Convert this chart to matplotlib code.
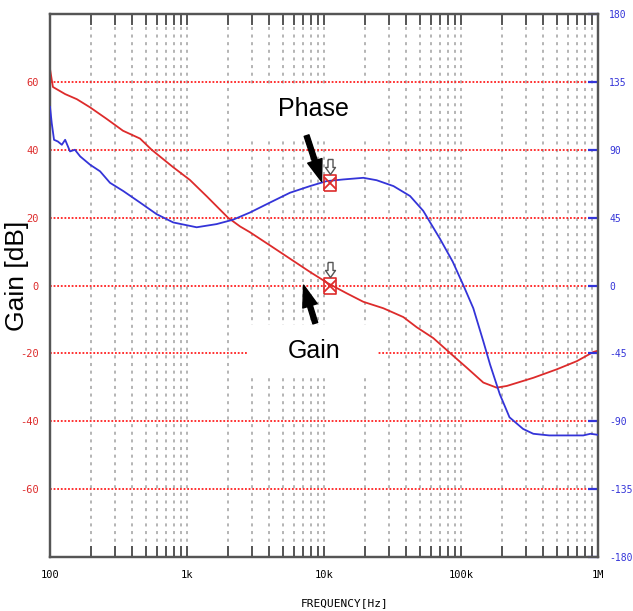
import matplotlib
matplotlib.use('Agg')
import matplotlib.pyplot as plt
from matplotlib.patches import Rectangle
from matplotlib.ticker import LogLocator, FixedLocator, NullFormatter

# Gain curve (Hz, dB)
gain_freq = [100, 105, 129, 157, 196, 259, 341, 454, 552, 790, 1050, 1400,
             1990, 2440, 2880, 4040, 5650, 7900, 10750, 14650, 19360, 27100,
             37930, 47500, 62800, 83200, 110000, 145500, 182000, 216000,
             337000, 500000, 700000, 924000, 1000000]
gain_db = [63.8, 58.5, 56.4, 54.9, 52.5, 49.1, 45.6, 43.3, 40.0, 34.9, 31.1,
           26.2, 20.0, 17.4, 15.7, 11.8, 7.9, 4.0, 0.6, -2.3, -4.8, -6.7,
           -9.3, -12.3, -15.5, -19.9, -24.2, -28.6, -30.1, -29.6, -27.2,
           -24.7, -22.3, -19.6, -19.2]

# Phase curve (Hz, deg)
phase_freq = [100, 103, 107, 114, 122, 129, 140, 152, 166, 196, 232, 274, 343,
              454, 600, 794, 1176, 1643, 2165, 2884, 4035, 5646, 7901, 10450,
              13800, 19360, 24220, 32160, 42500, 53000, 70300, 87000, 104000,
              123000, 145500, 163000, 192000, 226000, 284000, 337000, 440000,
              780000, 880000, 1000000]
phase_deg = [118.4, 107.5, 96.6, 95.5, 93.3, 96.6, 88.9, 90.0, 85.6, 80.1,
             75.7, 68.1, 62.6, 55.0, 47.3, 41.8, 38.6, 40.7, 43.6, 48.4, 55.0,
             61.5, 65.9, 69.2, 70.3, 71.4, 69.8, 65.9, 59.3, 49.5, 30.9, 15.8,
             0.2, -15.1, -37.0, -52.4, -72.1, -87.4, -95.1, -98.3, -99.4,
             -99.4, -98.3, -99.0]

# crossover marker
marker_freq = 11000
marker_gain = 0
marker_phase = 68

x_ticks = [100, 1000, 10000, 100000, 1000000]
x_labels = ['100', '1k', '10k', '100k', '1M']
gain_ticks = [-60, -40, -20, 0, 20, 40, 60]
phase_ticks = [-180, -135, -90, -45, 0, 45, 90, 135, 180]

RED = '#dd2b2b'
BLUE = '#3434d8'
GRIDRED = '#ff2020'
mono = 'DejaVu Sans Mono'

fig = plt.figure(figsize=(6.33, 6.11), dpi=100)
ax = fig.add_axes([50/633, 1-557/611, 548/633, 543/611])
ax2 = ax.twinx()

ax.set_xscale('log')
ax.set_xlim(100, 1e6)
ax.set_ylim(-80, 80)
ax2.set_ylim(-180, 180)

ax.xaxis.set_major_locator(FixedLocator(x_ticks))
ax.set_xticklabels(x_labels, fontsize=7.5, family=mono)
ax.xaxis.set_minor_locator(LogLocator(base=10, subs=range(2, 10)))
ax.xaxis.set_minor_formatter(NullFormatter())
ax.tick_params(axis='x', which='both', direction='in', length=8, width=1.4,
               color='#555555', top=True, pad=9)

ax.set_yticks(gain_ticks)
ax.set_yticklabels([str(v) for v in gain_ticks], fontsize=7.5, family=mono,
                   color=RED)
ax.tick_params(axis='y', length=0, pad=8)

ax2.set_yticks(phase_ticks)
ax2.set_yticklabels([str(v) for v in phase_ticks], fontsize=7, family=mono,
                    color=BLUE)
ax2.tick_params(axis='y', direction='in', length=7, width=1.6, color=BLUE,
                pad=8)

# grid
ax.set_axisbelow(True)
ax.grid(True, which='both', axis='x', color='#a0a0a0', lw=1.1,
        linestyle=(0, (2, 3)))
ax.grid(True, which='major', axis='y', color=GRIDRED, lw=1.3,
        linestyle=(0, (1, 1)))

for a in (ax, ax2):
    for s in a.spines.values():
        s.set_color('#555555')
        s.set_linewidth(1.6)

# curves
ax.plot(gain_freq, gain_db, color=RED, lw=1.3, zorder=3)
ax2.plot(phase_freq, phase_deg, color=BLUE, lw=1.3, zorder=3)

# white boxes behind labels
ax2.add_patch(Rectangle((0.36, 0.768), 0.237, 0.101, transform=ax2.transAxes,
                        facecolor='white', edgecolor='none', zorder=1))
ax2.add_patch(Rectangle((0.36, 0.335), 0.237, 0.092, transform=ax2.transAxes,
                        facecolor='white', edgecolor='none', zorder=1))

# markers
box = [(-6, -8.5), (6, -8.5), (6, 8.5), (-6, 8.5), (-6, -8.5)]
arrow = [(-2.5, 24), (2.5, 24), (2.5, 16), (5, 16), (0, 9), (-5, 16),
         (-2.5, 16), (-2.5, 24)]
for a, yv in ((ax, marker_gain), (ax2, marker_phase)):
    a.plot([marker_freq], [yv], marker=box, ms=12.2, mfc='none', mec=RED,
           mew=1.2, zorder=5)
    a.plot([marker_freq], [yv], marker='x', ms=8, mec=RED, mew=1.3, zorder=5)
    a.plot([marker_freq], [yv], marker=arrow, ms=34.6, mfc='white',
           mec='#555555', mew=1.0, zorder=5)

# annotations
ax2.text(0.480, 0.825, 'Phase', transform=ax2.transAxes, fontsize=18,
         family='Liberation Sans', ha='center', va='center', zorder=6)
ax2.text(0.482, 0.379, 'Gain', transform=ax2.transAxes, fontsize=18,
         family='Liberation Sans', ha='center', va='center', zorder=6)
arrowprops = dict(arrowstyle='simple,head_length=1.3,head_width=0.9,tail_width=0.3',
                  color='black', mutation_scale=12, shrinkA=0, shrinkB=0)
ax2.annotate('', xy=(9600, 69), xytext=(-10.8, 33), textcoords='offset points',
             arrowprops=arrowprops, zorder=6)
ax.annotate('', xy=(7100, 0.1), xytext=(8.4, -27.4), textcoords='offset points',
            arrowprops=arrowprops, zorder=6)

fig.text(17/633, 1-276/611, 'Gain [dB]', rotation=90, fontsize=19,
         family='Liberation Sans', ha='center', va='center')
fig.text(345/633, 1-603/611, 'FREQUENCY[Hz]', fontsize=8, family=mono,
         ha='center', va='center')

fig.savefig('out.png', dpi=100)
